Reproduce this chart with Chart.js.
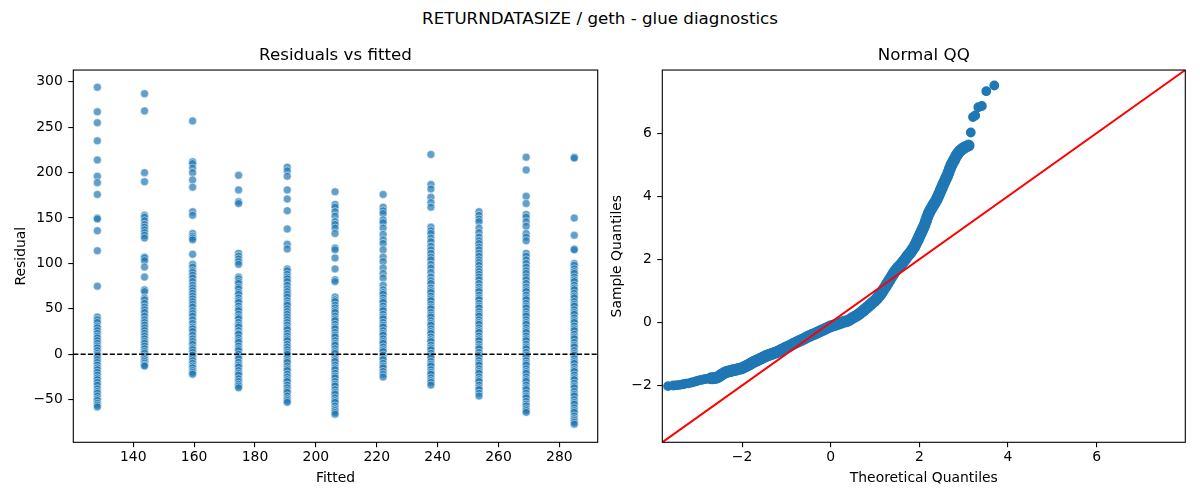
<!DOCTYPE html>
<html>
<head>
<meta charset="utf-8">
<title>RETURNDATASIZE / geth - glue diagnostics</title>
<script src="https://cdn.jsdelivr.net/npm/chart.js@4.4.0/dist/chart.umd.min.js"></script>
<style>
    body { margin: 0; background: #fff; font-family: "DejaVu Sans", sans-serif; }
    #wrap { position: relative; width: 1200px; height: 500px; }
    #suptitle { position: absolute; left: 0; top: 8px; width: 1200px; text-align: center; font-size: 16.7px; line-height: 20px; color: #000; }
    #leftBox { position: absolute; left: 0; top: 0; width: 605px; height: 500px; }
    #rightBox { position: absolute; left: 605px; top: 0; width: 595px; height: 500px; }
</style>
</head>
<body>
<div id="wrap">
    <div id="suptitle">RETURNDATASIZE / geth - glue diagnostics</div>
    <div id="leftBox"><canvas id="residChart" width="605" height="500"></canvas></div>
    <div id="rightBox"><canvas id="qqChart" width="595" height="500"></canvas></div>
</div>
<script>
// Fitted levels (one column of points per level)
const fittedVals = [128.2, 143.7, 159.5, 174.6, 190.6, 206.3, 222.1, 237.8, 253.6, 269.1, 284.9];

// Residuals
const res128 = [294, 267, 255, 235, 214, 196, 189, 176, 150, 149, 136, 114, 75, 41, 38, 35, 31, 29, 26, 23, 20, 18, 15, 12, 9, 7, 4, 1, -1, -3, -6, -9, -12, -15, -17, -20, -23, -26, -28, -31, -34, -38, -41, -43, -46, -49, -51, -54, -56, -58];
const res144 = [287, 268, 200, 190, 153, 151, 147, 143, 140, 137, 134, 131, 128, 107, 106, 103, 96, 85, 71, 69, 62, 60, 56, 52, 49, 46, 42, 38, 35, 32, 29, 26, 23, 20, 17, 14, 12, 9, 6, 3, 1, -2, -4, -6, -8, -10, -12, -13];
const res160 = [257, 212, 210, 205, 200, 192, 184, 157, 153, 133, 130, 128, 126, 110, 99, 96, 92, 90, 87, 84, 80, 76, 73, 70, 67, 64, 61, 58, 55, 52, 48, 45, 42, 38, 34, 30, 28, 25, 21, 17, 14, 11, 7, 5, 2, -1, -4, -7, -10, -13, -15, -18, -20, -22];
const res175 = [197, 181, 168, 166, 111, 108, 105, 102, 99, 85, 83, 80, 78, 74, 72, 68, 66, 62, 59, 57, 53, 50, 48, 44, 41, 39, 35, 32, 30, 26, 23, 22, 18, 15, 13, 9, 6, 4, 0, -3, -5, -9, -12, -14, -18, -21, -23, -27, -30, -33, -35, -37];
const res191 = [206, 202, 196, 181, 171, 158, 138, 121, 116, 94, 92, 88, 85, 83, 80, 76, 72, 69, 66, 63, 59, 56, 54, 50, 47, 44, 41, 38, 35, 32, 29, 27, 23, 20, 17, 15, 11, 8, 5, 2, 0, -4, -7, -9, -13, -16, -18, -22, -25, -28, -30, -34, -37, -40, -42, -46, -49, -51, -53];
const res207 = [179, 165, 162, 157, 152, 146, 143, 139, 133, 117, 115, 106, 94, 82, 80, 63, 60, 58, 54, 51, 48, 46, 42, 39, 37, 33, 30, 28, 24, 21, 19, 15, 12, 10, 6, 3, 1, -3, -6, -8, -12, -15, -17, -21, -24, -26, -30, -33, -35, -39, -42, -44, -48, -51, -53, -57, -60, -62, -64, -66];
const res222 = [176, 162, 158, 155, 148, 145, 139, 132, 126, 122, 115, 107, 102, 95, 89, 84, 76, 71, 68, 66, 62, 59, 57, 53, 50, 48, 44, 41, 39, 35, 32, 30, 26, 23, 21, 17, 14, 12, 8, 5, 3, -1, -4, -6, -10, -13, -15, -19, -22, -25];
const res238 = [220, 187, 182, 173, 167, 162, 140, 136, 133, 128, 124, 119, 115, 111, 107, 104, 99, 95, 90, 85, 81, 78, 73, 70, 68, 64, 61, 59, 55, 52, 50, 46, 43, 41, 37, 34, 32, 28, 25, 23, 19, 16, 14, 10, 7, 5, 1, -2, -4, -8, -11, -13, -17, -20, -22, -26, -29, -31, -34];
const res254 = [157, 153, 149, 146, 139, 134, 129, 125, 122, 118, 115, 111, 108, 104, 101, 98, 94, 91, 88, 85, 82, 78, 74, 71, 69, 65, 62, 60, 56, 53, 51, 47, 44, 42, 38, 35, 33, 29, 26, 24, 20, 17, 15, 11, 8, 6, 2, -1, -3, -7, -10, -12, -16, -19, -21, -25, -28, -30, -34, -37, -39, -43, -46];
const res269 = [217, 203, 174, 166, 154, 151, 146, 141, 133, 129, 125, 111, 108, 104, 100, 96, 92, 89, 85, 82, 78, 74, 71, 69, 65, 62, 60, 56, 53, 51, 47, 44, 42, 38, 35, 33, 29, 26, 24, 20, 17, 15, 11, 8, 6, 2, -1, -3, -7, -10, -12, -16, -19, -21, -25, -28, -30, -34, -37, -39, -43, -46, -48, -52, -55, -57, -60, -62, -64];
const res285 = [217, 216, 150, 131, 116, 115, 100, 98, 94, 91, 89, 85, 82, 80, 76, 73, 71, 67, 64, 62, 58, 55, 53, 49, 46, 44, 40, 37, 35, 31, 28, 26, 22, 19, 17, 13, 10, 8, 4, 1, -1, -5, -8, -10, -14, -17, -19, -23, -26, -28, -32, -35, -37, -41, -44, -46, -50, -53, -55, -59, -62, -64, -68, -71, -73, -75, -77];
const residCols = [res128, res144, res160, res175, res191, res207, res222, res238, res254, res269, res285];

// Normal QQ points
const qqTheo = [
    -3.67, -3.55, -3.47, -3.40, -3.33, -3.27, -3.21, -3.15, -3.10, -3.05, -3.00, -2.95, -2.90, -2.85, -2.80, -2.75, -2.70, -2.66, -2.62, -2.57, -2.53,
    -2.49, -2.45, -2.41, -2.37, -2.33, -2.29, -2.25, -2.21, -2.17, -2.13, -2.09, -2.05, -2.01, -1.97, -1.93, -1.89, -1.85, -1.81, -1.77, -1.73, -1.69, -1.65, -1.61, -1.57, -1.53, -1.49, -1.45, -1.41, -1.37, -1.33, -1.29, -1.25, -1.21, -1.17, -1.14,
    -1.10, -1.05, -1.00, -0.95, -0.90, -0.84, -0.78, -0.72, -0.66, -0.60, -0.54, -0.48, -0.42, -0.36, -0.30, -0.24, -0.18, -0.12, -0.06, 0.00, 0.06, 0.12, 0.18, 0.24, 0.30, 0.36,
    0.42, 0.48, 0.54, 0.59, 0.64, 0.69, 0.74, 0.79, 0.84, 0.89, 0.94, 0.99, 1.04, 1.08, 1.12, 1.16, 1.20, 1.24, 1.28, 1.32, 1.36, 1.40, 1.44, 1.48, 1.52,
    1.56, 1.60, 1.64, 1.68, 1.72, 1.76, 1.80, 1.84, 1.88, 1.91, 1.94, 1.97, 2.00, 2.03, 2.06, 2.09, 2.12, 2.15, 2.18, 2.21, 2.24, 2.27, 2.30, 2.33, 2.36, 2.39, 2.42, 2.45, 2.48, 2.51, 2.54, 2.57, 2.60, 2.63, 2.66, 2.69, 2.72, 2.75, 2.78, 2.81, 2.84, 2.88, 2.92, 2.96, 3.00, 3.05, 3.11,
    3.16, 3.21, 3.26, 3.33, 3.41, 3.51, 3.69
];
const qqSample = [
    -2.02, -2.00, -1.99, -1.98, -1.96, -1.94, -1.93, -1.91, -1.89, -1.87, -1.85, -1.83, -1.82, -1.80, -1.79, -1.78, -1.77, -1.77, -1.76, -1.75, -1.72,
    -1.68, -1.64, -1.61, -1.58, -1.56, -1.55, -1.54, -1.52, -1.51, -1.50, -1.48, -1.47, -1.45, -1.43, -1.40, -1.37, -1.34, -1.31, -1.28, -1.25, -1.22, -1.20, -1.17, -1.14, -1.11, -1.09, -1.06, -1.04, -1.02, -1.00, -0.98, -0.96, -0.94, -0.91, -0.89,
    -0.86, -0.83, -0.79, -0.76, -0.72, -0.68, -0.64, -0.60, -0.56, -0.52, -0.47, -0.43, -0.39, -0.36, -0.32, -0.28, -0.24, -0.20, -0.16, -0.12, -0.10, -0.07, -0.04, -0.01, 0.02, 0.04,
    0.08, 0.13, 0.18, 0.22, 0.27, 0.32, 0.38, 0.44, 0.50, 0.56, 0.62, 0.68, 0.75, 0.82, 0.89, 0.97, 1.06, 1.15, 1.24, 1.33, 1.42, 1.51, 1.60, 1.67, 1.74,
    1.80, 1.86, 1.93, 2.00, 2.08, 2.15, 2.22, 2.30, 2.38, 2.46, 2.55, 2.64, 2.73, 2.82, 2.91, 3.00, 3.10, 3.22, 3.34, 3.45, 3.53, 3.61, 3.68, 3.75, 3.82, 3.90, 3.98, 4.08, 4.18, 4.28, 4.38, 4.47, 4.56, 4.65, 4.76, 4.88, 4.98, 5.06, 5.14, 5.22, 5.30, 5.38, 5.44, 5.49, 5.53, 5.57, 5.61,
    6.02, 6.51, 6.56, 6.82, 6.86, 7.33, 7.51
];

// 45 degree reference line end points (axis bounds)
const refLine = [-3.8, 8.0];

// Tick values
const fittedTicks = [140, 160, 180, 200, 220, 240, 260, 280];
const residTicks = [-50, 0, 50, 100, 150, 200, 250, 300];
const qqTicks = [-2, 0, 2, 4, 6];

const FONT = '"DejaVu Sans", sans-serif';
const zeroLevel = 0;

function fmt(v) {
    return v < 0 ? '\u2212' + Math.abs(v) : String(v);
}

// Axis box + optional dashed zero line
const framePlugin = {
    id: 'frame',
    afterDatasetsDraw(chart, args, opts) {
        const {ctx, chartArea: a, scales} = chart;
        ctx.save();
        if (opts.zeroLine) {
            const y = scales.y.getPixelForValue(zeroLevel);
            ctx.strokeStyle = '#000';
            ctx.lineWidth = 1.4;
            ctx.setLineDash([5.1, 2.2]);
            ctx.beginPath();
            ctx.moveTo(a.left, y);
            ctx.lineTo(a.right, y);
            ctx.stroke();
            ctx.setLineDash([]);
        }
        ctx.strokeStyle = '#000';
        ctx.lineWidth = 1.1;
        ctx.strokeRect(a.left, a.top, a.right - a.left, a.bottom - a.top);
        ctx.restore();
    }
};

function makeAxis(ticks, min, max, title, titlePad, fitSize, horizontal) {
    return {
        type: 'linear',
        min: min,
        max: max,
        afterBuildTicks: s => { s.ticks = ticks.map(v => ({value: v})); },
        afterFit: s => {
            if (horizontal) s.height = fitSize; else s.width = fitSize;
        },
        grid: {
            display: true,
            drawOnChartArea: false,
            drawTicks: true,
            tickLength: 5,
            color: '#000',
            lineWidth: 1.1
        },
        border: { display: false },
        ticks: {
            autoSkip: false,
            maxRotation: 0,
            padding: horizontal ? 2 : 5.5,
            color: '#000',
            font: { family: FONT, size: 13.9 },
            callback: v => fmt(v)
        },
        title: {
            display: true,
            text: title,
            color: '#000',
            font: { family: FONT, size: 13.9 },
            padding: titlePad
        }
    };
}

function subTitle(text) {
    return {
        display: true,
        text: text,
        fullSize: false,
        color: '#000',
        font: { family: FONT, size: 16.7, weight: 'normal' },
        padding: { top: 45.4, bottom: 4.6 }
    };
}

document.addEventListener('DOMContentLoaded', function() {
    // Residuals vs fitted
    const residPoints = [];
    fittedVals.forEach((f, i) => {
        residCols[i].forEach(r => residPoints.push({x: f, y: r}));
    });

    new Chart(document.getElementById('residChart').getContext('2d'), {
        type: 'scatter',
        data: {
            datasets: [{
                data: residPoints,
                pointRadius: 4,
                pointBackgroundColor: 'rgba(31, 119, 180, 0.7)',
                pointBorderColor: 'rgba(255, 255, 255, 0.7)',
                pointBorderWidth: 0.7
            }]
        },
        options: {
            responsive: false,
            animation: false,
            layout: { padding: { top: 0, left: 0, right: 7.3, bottom: 0 } },
            plugins: {
                legend: { display: false },
                tooltip: { enabled: false },
                title: subTitle('Residuals vs fitted'),
                frame: { zeroLine: true }
            },
            scales: {
                x: makeAxis(fittedTicks, 120.3, 292.6, 'Fitted', { top: 0, bottom: 13.6 }, 57.7, true),
                y: makeAxis(residTicks, -97, 313, 'Residual', { top: 13.3, bottom: 0 }, 73.3, false)
            }
        },
        plugins: [framePlugin]
    });

    // Normal QQ
    const qqPoints = qqTheo.map((t, i) => ({x: t, y: qqSample[i]}));

    new Chart(document.getElementById('qqChart').getContext('2d'), {
        type: 'scatter',
        data: {
            datasets: [{
                type: 'line',
                data: refLine.map(v => ({x: v, y: v})),
                borderColor: '#ff0000',
                borderWidth: 2,
                pointRadius: 0,
                order: 0
            }, {
                data: qqPoints,
                // the crowded middle of the curve reads thicker than the tails
                pointRadius: c => (c.raw && c.raw.x > -2.75 && c.raw.x < 3.12) ? 5.3 : 4.2,
                pointBackgroundColor: '#1f77b4',
                pointBorderColor: '#1f77b4',
                pointBorderWidth: 1.4,
                order: 1
            }]
        },
        options: {
            responsive: false,
            animation: false,
            layout: { padding: { top: 0, left: 0, right: 14.7, bottom: 0 } },
            plugins: {
                legend: { display: false },
                tooltip: { enabled: false },
                title: subTitle('Normal QQ'),
                frame: { zeroLine: false }
            },
            scales: {
                x: makeAxis(qqTicks, -3.8, 8.0, 'Theoretical Quantiles', { top: 0, bottom: 13.6 }, 57.7, true),
                y: makeAxis(qqTicks, -3.8, 8.0, 'Sample Quantiles', { top: 4, bottom: 0 }, 57.3, false)
            }
        },
        plugins: [framePlugin]
    });
});
</script>
</body>
</html>
